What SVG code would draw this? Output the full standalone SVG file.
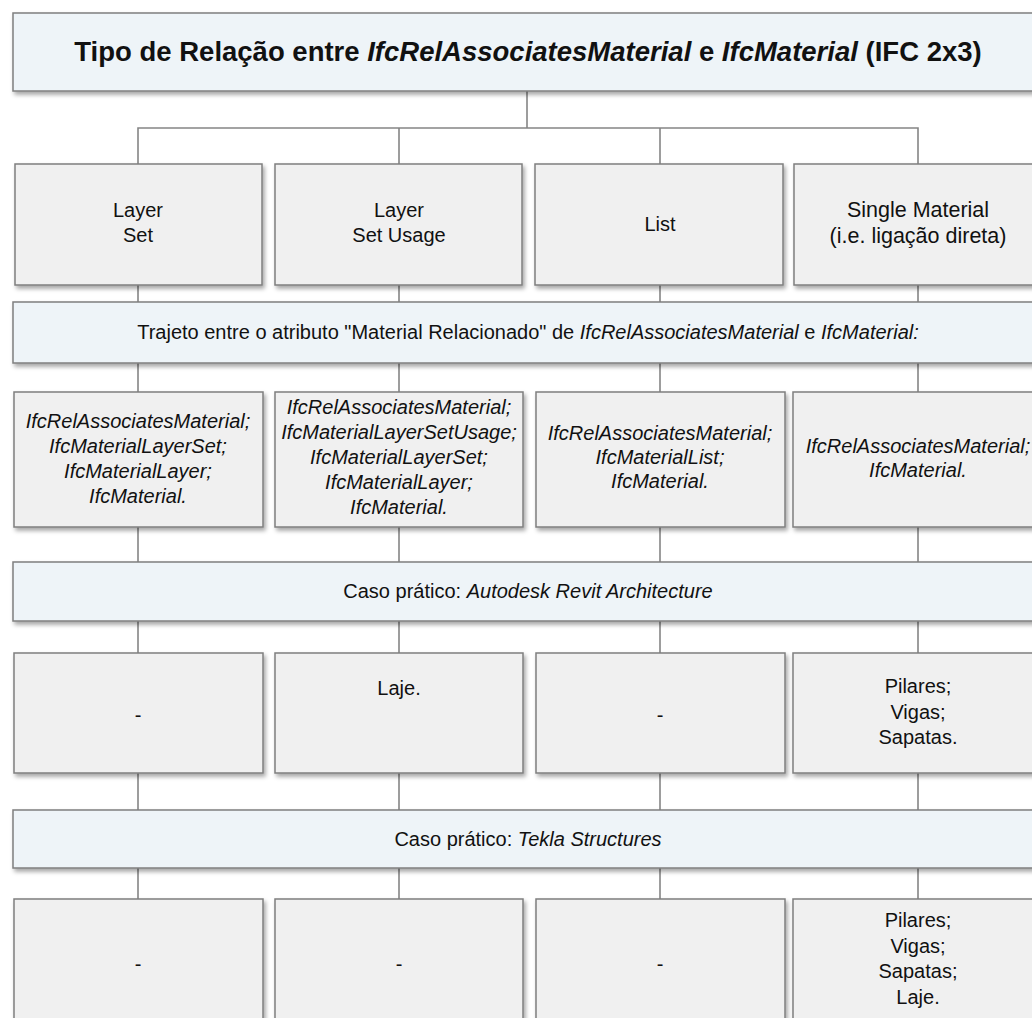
<svg xmlns="http://www.w3.org/2000/svg" width="1032" height="1018" viewBox="0 0 1032 1018">
  <defs>
    <filter id="sh" x="-10%" y="-10%" width="130%" height="140%">
      <feDropShadow dx="2" dy="3" stdDeviation="2" flood-color="#000" flood-opacity="0.35"/>
    </filter>
  </defs>
  <style>
    .box { fill: #f0f0f0; stroke: #7f7f7f; stroke-width: 1.5; filter: url(#sh); }
    .band { fill: #eef4f8; stroke: #7f7f7f; stroke-width: 1.5; filter: url(#sh); }
    .wire { fill: none; stroke: #858585; stroke-width: 1.6; }
    text { font-family: "Liberation Sans", Arial, sans-serif; font-size: 20px; fill: #111; text-anchor: middle; }
    .title { font-size: 27.5px; font-weight: bold; }
    .it { font-style: italic; }
    .big { font-size: 21.5px; }
  </style>
  <rect width="1032" height="1018" fill="#fff"/>

  <!-- connectors -->
  <g id="connectors">
    <path class="wire" d="M527 91V128 M138 164V128H918V164 M399 128V164 M660 128V164"/>
    <path class="wire" d="M138 285V302 M399 285V302 M660 285V302 M918 285V302"/>
    <path class="wire" d="M138 363V392 M399 363V392 M660 363V392 M918 363V392"/>
    <path class="wire" d="M138 527V562 M399 527V562 M660 527V562 M918 527V562"/>
    <path class="wire" d="M138 621V653 M399 621V653 M660 621V653 M918 621V653"/>
    <path class="wire" d="M138 773V810 M399 773V810 M660 773V810 M918 773V810"/>
    <path class="wire" d="M138 868V899 M399 868V899 M660 868V899 M918 868V899"/>
  </g>

  <!-- header -->
  <g id="title">
    <rect class="band" x="13" y="13" width="1035" height="78"/>
    <text class="title" x="528" y="61">Tipo de Relação entre <tspan class="it">IfcRelAssociatesMaterial</tspan> e <tspan class="it">IfcMaterial</tspan> (IFC 2x3)</text>
  </g>

  <!-- relation types -->
  <g id="type-layer-set">
    <rect class="box" x="15" y="164" width="247" height="121"/>
    <text x="138" y="217">Layer</text>
    <text x="138" y="242">Set</text>
  </g>
  <g id="type-layer-set-usage">
    <rect class="box" x="275" y="164" width="247" height="121"/>
    <text x="399" y="217">Layer</text>
    <text x="399" y="242">Set Usage</text>
  </g>
  <g id="type-list">
    <rect class="box" x="535" y="164" width="248" height="121"/>
    <text x="660" y="231">List</text>
  </g>
  <g id="type-single">
    <rect class="box" x="794" y="164" width="250" height="121"/>
    <text class="big" x="918" y="217">Single Material</text>
    <text class="big" x="918" y="243">(i.e. ligação direta)</text>
  </g>

  <!-- path band -->
  <g id="band-path">
    <rect class="band" x="13" y="302" width="1035" height="61"/>
    <text x="528" y="339">Trajeto entre o atributo "Material Relacionado" de <tspan class="it">IfcRelAssociatesMaterial</tspan> e <tspan class="it">IfcMaterial:</tspan></text>
  </g>

  <!-- entity paths -->
  <g id="path-layer-set">
    <rect class="box" x="14" y="392" width="249" height="135"/>
    <text class="it" x="138" y="428">IfcRelAssociatesMaterial;</text>
    <text class="it" x="138" y="453">IfcMaterialLayerSet;</text>
    <text class="it" x="138" y="478">IfcMaterialLayer;</text>
    <text class="it" x="138" y="503">IfcMaterial.</text>
  </g>
  <g id="path-layer-set-usage">
    <rect class="box" x="275" y="392" width="248" height="135"/>
    <text class="it" x="399" y="414">IfcRelAssociatesMaterial;</text>
    <text class="it" x="399" y="439">IfcMaterialLayerSetUsage;</text>
    <text class="it" x="399" y="464">IfcMaterialLayerSet;</text>
    <text class="it" x="399" y="489">IfcMaterialLayer;</text>
    <text class="it" x="399" y="514">IfcMaterial.</text>
  </g>
  <g id="path-list">
    <rect class="box" x="536" y="392" width="249" height="135"/>
    <text class="it" x="660" y="440">IfcRelAssociatesMaterial;</text>
    <text class="it" x="660" y="464">IfcMaterialList;</text>
    <text class="it" x="660" y="488">IfcMaterial.</text>
  </g>
  <g id="path-single">
    <rect class="box" x="793" y="392" width="251" height="135"/>
    <text class="it" x="918" y="453">IfcRelAssociatesMaterial;</text>
    <text class="it" x="918" y="477">IfcMaterial.</text>
  </g>

  <!-- Revit band -->
  <g id="band-revit">
    <rect class="band" x="13" y="562" width="1035" height="59"/>
    <text x="528" y="598">Caso prático: <tspan class="it">Autodesk Revit Architecture</tspan></text>
  </g>

  <g id="revit-layer-set">
    <rect class="box" x="14" y="653" width="249" height="120"/>
    <text x="138" y="722">-</text>
  </g>
  <g id="revit-layer-set-usage">
    <rect class="box" x="275" y="653" width="248" height="120"/>
    <text x="399" y="695">Laje.</text>
  </g>
  <g id="revit-list">
    <rect class="box" x="536" y="653" width="249" height="120"/>
    <text x="660" y="722">-</text>
  </g>
  <g id="revit-single">
    <rect class="box" x="793" y="653" width="251" height="120"/>
    <text x="918" y="693">Pilares;</text>
    <text x="918" y="719">Vigas;</text>
    <text x="918" y="744">Sapatas.</text>
  </g>

  <!-- Tekla band -->
  <g id="band-tekla">
    <rect class="band" x="13" y="810" width="1035" height="58"/>
    <text x="528" y="846">Caso prático: <tspan class="it">Tekla Structures</tspan></text>
  </g>

  <g id="tekla-layer-set">
    <rect class="box" x="14" y="899" width="249" height="140"/>
    <text x="138" y="971">-</text>
  </g>
  <g id="tekla-layer-set-usage">
    <rect class="box" x="275" y="899" width="248" height="140"/>
    <text x="399" y="971">-</text>
  </g>
  <g id="tekla-list">
    <rect class="box" x="536" y="899" width="249" height="140"/>
    <text x="660" y="971">-</text>
  </g>
  <g id="tekla-single">
    <rect class="box" x="793" y="899" width="251" height="140"/>
    <text x="918" y="927">Pilares;</text>
    <text x="918" y="953">Vigas;</text>
    <text x="918" y="978">Sapatas;</text>
    <text x="918" y="1004">Laje.</text>
  </g>
</svg>
